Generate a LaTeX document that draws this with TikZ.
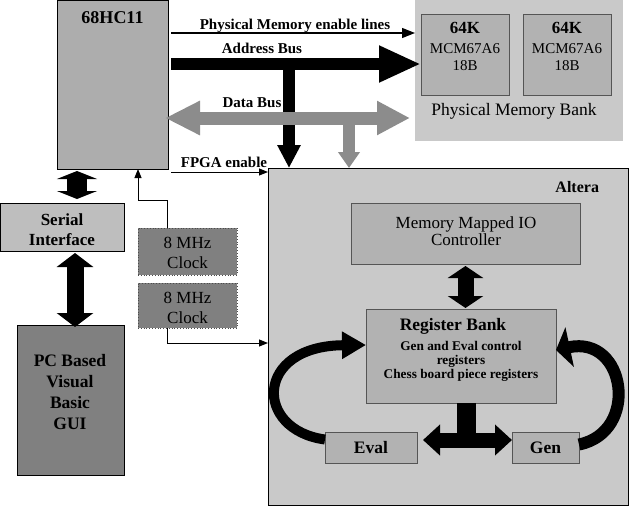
\documentclass[tikz,border=0pt]{standalone}
\usepackage{fontspec}
\setmainfont{Liberation Serif}
\usetikzlibrary{arrows.meta}
\definecolor{chip}{HTML}{ADADAD}
\definecolor{hatch}{HTML}{C9C9C9}
\definecolor{inner}{HTML}{B2B2B2}
\definecolor{darkbox}{HTML}{808080}
\definecolor{serialc}{HTML}{BEBEBE}
\definecolor{busgray}{HTML}{8C8C8C}
\definecolor{edgegray}{HTML}{555555}
\newcommand\fntChip{\fontsize{18pt}{21pt}\selectfont\bfseries}
\newcommand\fntBus{\fontsize{15pt}{18pt}\selectfont\bfseries}
\newcommand\fntK{\fontsize{17pt}{20pt}\selectfont\bfseries}
\newcommand\fntMCM{\fontsize{15pt}{18pt}\selectfont}
\newcommand\fntBank{\fontsize{17.5pt}{20pt}\selectfont}
\newcommand\fntAltera{\fontsize{16pt}{19pt}\selectfont\bfseries}
\newcommand\fntMMIO{\fontsize{17pt}{20pt}\selectfont}
\newcommand\fntRegHead{\fontsize{17.5pt}{20pt}\selectfont\bfseries}
\newcommand\fntRegSmall{\fontsize{13.3pt}{16pt}\selectfont\bfseries}
\newcommand\fntEG{\fontsize{17.5pt}{20pt}\selectfont\bfseries}
\newcommand\fntSerial{\fontsize{17pt}{20pt}\selectfont\bfseries}
\newcommand\fntPC{\fontsize{17.5pt}{20pt}\selectfont\bfseries}
\newcommand\fntClock{\fontsize{17pt}{20pt}\selectfont}
\begin{document}
\begin{tikzpicture}[x=1pt,y=-1pt,
  box/.style={rectangle, inner sep=0pt, outer sep=0pt, draw=black, line width=0.8pt},
  innerbox/.style={box, fill=inner, draw=edgegray},
  clockbox/.style={box, fill=darkbox, draw=black!70, dotted, line width=1pt},
  lbl/.style={anchor=base, inner sep=0pt, outer sep=0pt},
  thinarrow/.style={line width=1pt, -{Triangle[length=9pt,width=7pt]}},
  pmearrow/.style={line width=1.3pt, -{Triangle[length=13pt,width=10pt]}}
]
\useasboundingbox (0,0) rectangle (630,507);
\fill[white] (0,0) rectangle (630,507);

% ---- boxes ----
\node[box, fill=chip, minimum width=111pt, minimum height=169pt] (hc) at (112.5,84.5) {};
\node[box, fill=hatch, draw=none, minimum width=208pt, minimum height=141pt] (bank) at (519,70.5) {};
\node[innerbox, minimum width=88pt, minimum height=81pt] (m1) at (465,54.5) {};
\node[innerbox, minimum width=88pt, minimum height=81pt] (m2) at (567,54.5) {};
\node[box, fill=hatch, minimum width=360pt, minimum height=337pt] (alt) at (448,336.5) {};
\node[innerbox, minimum width=229pt, minimum height=61pt] (mmio) at (465.5,233.5) {};
\node[innerbox, minimum width=190pt, minimum height=94pt] (reg) at (461,356) {};
\node[innerbox, minimum width=92pt, minimum height=31pt] (eval) at (371,447.5) {};
\node[innerbox, minimum width=67pt, minimum height=31pt] (gen) at (545.5,447.5) {};
\node[box, fill=serialc, minimum width=124pt, minimum height=48pt] (serial) at (62,227) {};
\node[box, fill=darkbox, minimum width=107pt, minimum height=150pt] (pc) at (70.5,400) {};
\node[clockbox, minimum width=99pt, minimum height=47pt] (clk1) at (187.5,251.5) {};
\node[clockbox, minimum width=99pt, minimum height=45pt] (clk2) at (187.5,305.5) {};

% ---- helper coordinates ----
\coordinate (abj) at (289,58);
\coordinate (dbj) at (349,112);
\coordinate (hsx) at (77,0);
\coordinate (spx) at (75,0);
\coordinate (regx) at (466,0);

% ---- connectors ----
\draw[pmearrow, shorten <=3pt] (hc.east |- 0,33) -- (bank.west |- 0,33);
\draw[line width=12pt, -{Triangle[length=42pt,width=34pt]}, shorten <=3pt] (hc.east |- 0,64) -- (m1.west |- 0,64);
\draw[line width=12pt, -{Triangle[length=23pt,width=22pt]}] (abj) -- (abj |- alt.north);
\draw[line width=13pt, busgray, {Triangle[length=35pt,width=32pt]}-{Triangle[length=33pt,width=32pt]}, shorten <=-3pt, shorten >=5pt] (hc.east |- 0,118) -- (bank.west |- 0,118);
\draw[line width=12pt, busgray, -{Triangle[length=16pt,width=21pt]}] (dbj) -- (dbj |- alt.north);
\draw[thinarrow, shorten <=3pt] (hc.east |- 0,172) -- (alt.west |- 0,172);

\draw[thinarrow] ([xshift=-20.5pt]clk1.north) |- (clk1.north west |- 0,200) -- (clk1.north west |- hc.south);
\draw[thinarrow] ([xshift=-20.5pt]clk2.south) |- (alt.west |- 0,343);

\draw[line width=20pt, {Triangle[length=8pt,width=40pt]}-{Triangle[length=8pt,width=40pt]}, shorten <=2pt, shorten >=4pt] (hsx |- hc.south) -- (hsx |- serial.north);
\draw[line width=17pt, {Triangle[length=14pt,width=36pt]}-{Triangle[length=14pt,width=36pt]}, shorten <=2pt, shorten >=-2pt] (spx |- serial.south) -- (spx |- pc.north);

\draw[line width=16pt, {Triangle[length=12pt,width=35pt]}-{Triangle[length=12pt,width=35pt]}, shorten <=2pt, shorten >=1pt] (mmio.south) -- (mmio.south |- reg.north);
\draw[line width=19pt] (regx |- reg.south) -- (regx |- 0,440);
\draw[line width=15pt, {Triangle[length=17pt,width=30pt]}-{Triangle[length=17pt,width=30pt]}, shorten <=6pt] (eval.east |- 0,440) -- (gen.west |- 0,440);

\draw[line width=10pt, -{Triangle[length=24pt,width=26pt]}] ([yshift=8pt]eval.west) .. controls (254,430) and (254,346) .. (reg.west |- 0,345);
\draw[line width=12pt, -{Triangle[length=14pt,width=40pt]}] ([yshift=3pt]gen.east) .. controls (640,432) and (626,335) .. (reg.east |- 0,350);

% ---- texts ----
\node[lbl, font=\fntChip] (thc) at (112.5,23) {68HC11};
\node[lbl, font=\fntBus] (tpme) at (295,29) {Physical Memory enable lines};
\node[lbl, font=\fntBus] (tab) at (262,53) {Address Bus};
\node[lbl, font=\fntBus] (tdb) at (252,107) {Data Bus};
\node[lbl, font=\fntBus] (tfe) at (224,167) {FPGA enable};

\node[lbl, font=\fntK] (k1) at (465,33) {64K};
\node[lbl, font=\fntMCM] (c1) at (465,53) {MCM67A6};
\node[lbl, font=\fntMCM] (b1) at (465,70) {18B};
\node[lbl, font=\fntK] (k2) at (567,33) {64K};
\node[lbl, font=\fntMCM] (c2) at (567,53) {MCM67A6};
\node[lbl, font=\fntMCM] (b2) at (567,70) {18B};
\node[lbl, font=\fntBank] (tbank) at (514,115) {Physical Memory Bank};

\node[lbl, font=\fntAltera, anchor=base east] (talt) at (599,192) {Altera};
\node[lbl, font=\fntMMIO] (tmm1) at (466,228) {Memory Mapped IO};
\node[lbl, font=\fntMMIO] (tmm2) at (466,245) {Controller};
\node[lbl, font=\fntRegHead] (treg) at (453,330) {Register Bank};
\node[lbl, font=\fntRegSmall] (tr1) at (461,350) {Gen and Eval control};
\node[lbl, font=\fntRegSmall] (tr2) at (461,364) {registers};
\node[lbl, font=\fntRegSmall] (tr3) at (461,378) {Chess board piece registers};
\node[lbl, font=\fntEG] (teval) at (371,453) {Eval};
\node[lbl, font=\fntEG] (tgen) at (545.5,453) {Gen};

\node[lbl, font=\fntSerial] (ts1) at (62,225) {Serial};
\node[lbl, font=\fntSerial] (ts2) at (62,245) {Interface};
\node[lbl, font=\fntPC] (tp1) at (70,366) {PC Based};
\node[lbl, font=\fntPC] (tp2) at (70,387) {Visual};
\node[lbl, font=\fntPC] (tp3) at (70,408) {Basic};
\node[lbl, font=\fntPC] (tp4) at (70,429) {GUI};

\node[lbl, font=\fntClock] (tc1a) at (187.5,248) {8 MHz};
\node[lbl, font=\fntClock] (tc1b) at (187.5,268) {Clock};
\node[lbl, font=\fntClock] (tc2a) at (187.5,303) {8 MHz};
\node[lbl, font=\fntClock] (tc2b) at (187.5,323) {Clock};
\end{tikzpicture}
\end{document}
